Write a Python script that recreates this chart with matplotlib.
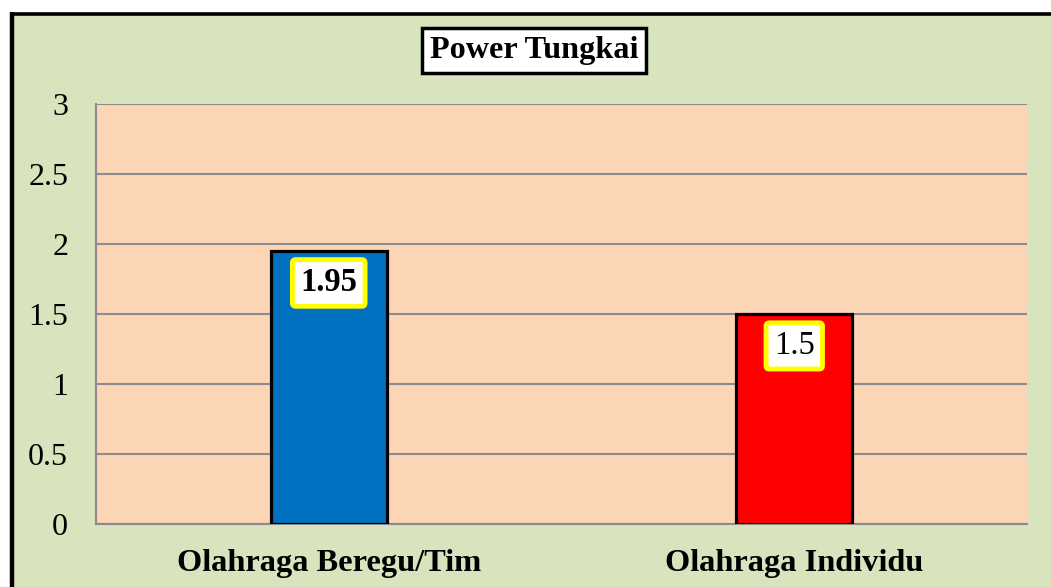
import matplotlib.pyplot as plt
from matplotlib.patches import Rectangle
from matplotlib.lines import Line2D

categories = ["Olahraga Beregu/Tim", "Olahraga Individu"]
values = [1.95, 1.5]
bar_colors = ["#0070C0", "#FF0000"]
label_weights = ["bold", "normal"]
title = "Power Tungkai"
yticks = [0, 0.5, 1, 1.5, 2, 2.5, 3]

plt.rcParams["font.family"] = ["Liberation Serif", "DejaVu Serif"]

fig = plt.figure(figsize=(10.51, 5.87), dpi=100)
fig.patch.set_facecolor("white")

W, H = 1051, 587
# green chart area with thick black border on top/left
fig.patches.append(Rectangle((14 / W, 0), 1, 1 - 15 / H, transform=fig.transFigure,
                             facecolor="#D7E4BD", edgecolor="none", zorder=-5))
fig.add_artist(Line2D([12 / W, 12 / W], [0, 1 - 12 / H], transform=fig.transFigure,
                      color="black", linewidth=3.2, solid_capstyle="butt"))
fig.add_artist(Line2D([10 / W, 1], [1 - 13.5 / H, 1 - 13.5 / H], transform=fig.transFigure,
                      color="black", linewidth=2.6, solid_capstyle="butt"))

ax = fig.add_axes([96 / W, 1 - 524 / H, (1027 - 96) / W, (524 - 104) / H])
ax.set_facecolor("#FCD5B5")

x = range(len(categories))
ax.bar(x, values, width=0.25, color=bar_colors, edgecolor="black", linewidth=2.3, zorder=3)

ax.set_xlim(-0.5, 1.5)
ax.set_ylim(0, 3)
ax.set_yticks(yticks)
ax.set_yticklabels([f"{t:g}" for t in yticks], fontsize=23)
ax.set_xticks(list(x))
ax.set_xticklabels(categories, fontsize=23.3, fontweight="bold")
ax.tick_params(axis="y", length=0, pad=20)
ax.tick_params(axis="x", length=0, pad=18)
ax.yaxis.grid(True, color="#8C8C8C", linewidth=1.5, zorder=1)
ax.set_axisbelow(True)
for side in ["top", "right"]:
    ax.spines[side].set_visible(False)
for side in ["left", "bottom"]:
    ax.spines[side].set_color("#8C8C8C")
    ax.spines[side].set_linewidth(1.5)

for xi, v, w in zip(x, values, label_weights):
    ax.annotate(f"{v:g}", (xi, v), xytext=(0, -23), textcoords="offset points",
                ha="center", va="center", fontsize=23.5, fontweight=w, zorder=5,
                bbox=dict(boxstyle="round,pad=0.24,rounding_size=0.1", facecolor="white",
                          edgecolor="#FFFF00", linewidth=3.5))

fig.text(534 / W, 1 - 50.5 / H, title, ha="center", va="center", fontsize=23.2, fontweight="bold",
         bbox=dict(boxstyle="square,pad=0.24", facecolor="white", edgecolor="black", linewidth=2.5))

fig.savefig("out.png", dpi=100)
